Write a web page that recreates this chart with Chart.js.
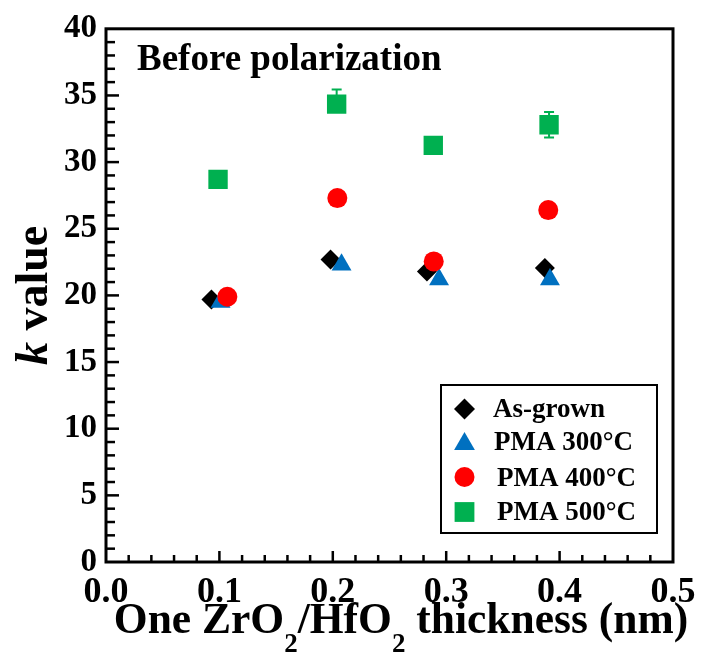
<!DOCTYPE html>
<html>
<head>
<meta charset="utf-8">
<script src="https://cdn.jsdelivr.net/npm/chart.js@4.4.0/dist/chart.umd.min.js"></script>
<style>
  html, body { margin: 0; padding: 0; background: #fff; }
</style>
</head>
<body>
<canvas id="kChart" width="708" height="661"></canvas>
<script>
// values
const seriesNames = ['As-grown', 'PMA 300°C', 'PMA 400°C', 'PMA 500°C'];
const seriesColors = ['#000000', '#0070C0', '#FF0000', '#00B050'];

const asGrownX = [0.093, 0.198, 0.283, 0.387];
const asGrownY = [19.7, 22.7, 21.8, 22.05];
const pma300X = [0.101, 0.2077, 0.2937, 0.3915];
const pma300Y = [19.5, 22.3, 21.2, 21.2];
const pma400X = [0.107, 0.204, 0.289, 0.390];
const pma400Y = [19.9, 27.3, 22.55, 26.4];
const pma500X = [0.0988, 0.2034, 0.2886, 0.3907];
const pma500Y = [28.7, 34.35, 31.25, 32.8];
const pma500ErrUp = [0, 1.1, 0, 0.95];
const pma500ErrDown = [0, 0.6, 0, 0.95];

const xTickLabels = ['0.0', '0.1', '0.2', '0.3', '0.4', '0.5'];
const yTickLabels = ['0', '5', '10', '15', '20', '25', '30', '35', '40'];

const serif = "'Times New Roman', 'Liberation Serif', serif";

function toPoints(xs, ys) {
  return xs.map((x, i) => ({ x: x, y: ys[i] }));
}

// inward ticks + closed frame
const frameTicks = {
  id: 'frameTicks',
  beforeDatasetsDraw(chart) {
    const { ctx, chartArea: a, scales } = chart;
    const xs = scales.x, ys = scales.y;
    ctx.save();
    ctx.strokeStyle = '#000';
    ctx.lineWidth = 2.5;
    for (let v = 1; v < 40; v++) {
      const py = ys.getPixelForValue(v);
      const len = v % 5 === 0 ? 13 : 9;
      ctx.beginPath();
      ctx.moveTo(a.left, py);
      ctx.lineTo(a.left + len, py);
      ctx.stroke();
    }
    for (let k = 1; k < 25; k++) {
      const px = xs.getPixelForValue(k * 0.02);
      const len = k % 5 === 0 ? 11 : 7;
      ctx.beginPath();
      ctx.moveTo(px, a.bottom);
      ctx.lineTo(px, a.bottom - len);
      ctx.stroke();
    }
    ctx.lineWidth = 3;
    ctx.strokeRect(a.left, a.top, a.right - a.left, a.bottom - a.top);
    ctx.restore();
  }
};

// error bars on PMA 500°C
const errorBars = {
  id: 'errorBars',
  beforeDatasetsDraw(chart) {
    const { ctx, scales } = chart;
    ctx.save();
    ctx.strokeStyle = seriesColors[3];
    ctx.lineWidth = 2;
    pma500X.forEach((x, i) => {
      if (!pma500ErrUp[i] && !pma500ErrDown[i]) return;
      const px = scales.x.getPixelForValue(x);
      const top = scales.y.getPixelForValue(pma500Y[i] + pma500ErrUp[i]);
      const bot = scales.y.getPixelForValue(pma500Y[i] - pma500ErrDown[i]);
      ctx.beginPath();
      ctx.moveTo(px, top); ctx.lineTo(px, bot);
      ctx.moveTo(px - 5, top); ctx.lineTo(px + 5, top);
      ctx.moveTo(px - 5, bot); ctx.lineTo(px + 5, bot);
      ctx.stroke();
    });
    ctx.restore();
  }
};

// note, legend box and axis titles (subscripts need pieces)
const figureText = {
  id: 'figureText',
  afterDraw(chart) {
    const { ctx, chartArea: a } = chart;
    ctx.save();
    ctx.fillStyle = '#000';
    ctx.textBaseline = 'alphabetic';
    ctx.textAlign = 'left';

    ctx.font = 'bold 37px ' + serif;
    ctx.fillText('Before polarization', a.left + 31, a.top + 41);

    // legend
    ctx.lineWidth = 2;
    ctx.strokeStyle = '#000';
    ctx.strokeRect(441, 385, 216, 148);
    const rowsY = [409, 444, 477, 512];
    const baseY = [417, 450, 486, 520];
    const textX = [493, 494, 497, 497];
    chart.data.datasets.forEach((ds, i) => {
      ctx.fillStyle = ds.backgroundColor;
      Chart.helpers.drawPoint(ctx, {
        pointStyle: ds.pointStyle,
        radius: ds.legendRadius,
        rotation: 0,
        borderWidth: 0
      }, 464.5, rowsY[i]);
      ctx.fillStyle = '#000';
      ctx.font = 'bold 27px ' + serif;
      ctx.fillText(ds.label, textX[i], baseY[i]);
    });

    // x title
    const parts = [['One ZrO', 0], ['2', 1], ['/HfO', 0], ['2', 1], [' thickness (nm)', 0]];
    const mainFont = 'bold 43.5px ' + serif, subFont = 'bold 27px ' + serif;
    let total = 0;
    parts.forEach(p => { ctx.font = p[1] ? subFont : mainFont; total += ctx.measureText(p[0]).width; });
    let cx = 401 - total / 2;
    parts.forEach(p => {
      ctx.font = p[1] ? subFont : mainFont;
      ctx.fillText(p[0], cx, p[1] ? 652 : 633);
      cx += ctx.measureText(p[0]).width;
    });

    // y title
    ctx.translate(47, (a.top + a.bottom) / 2);
    ctx.rotate(-Math.PI / 2);
    const kFont = 'italic bold 46px ' + serif, vFont = 'bold 46px ' + serif;
    ctx.font = kFont; const wk = ctx.measureText('k').width;
    ctx.font = vFont; const wv = ctx.measureText(' value').width;
    let sx = -(wk + wv) / 2;
    ctx.font = kFont; ctx.fillText('k', sx, 0);
    ctx.font = vFont; ctx.fillText(' value', sx + wk, 0);
    ctx.restore();
  }
};

const datasets = [
  { label: seriesNames[0], data: toPoints(asGrownX, asGrownY), pointStyle: 'rectRot', pointRadius: 10, legendRadius: 10.5, order: 4 },
  { label: seriesNames[1], data: toPoints(pma300X, pma300Y), pointStyle: 'triangle', pointRadius: 11.5, legendRadius: 12, order: 3 },
  { label: seriesNames[2], data: toPoints(pma400X, pma400Y), pointStyle: 'circle', pointRadius: 10, legendRadius: 10, order: 2 },
  { label: seriesNames[3], data: toPoints(pma500X, pma500Y), pointStyle: 'rect', pointRadius: 13.7, legendRadius: 14, order: 1 }
].map((ds, i) => Object.assign(ds, {
  backgroundColor: seriesColors[i],
  borderColor: seriesColors[i],
  borderWidth: 0,
  pointHoverRadius: ds.pointRadius,
  showLine: false
}));

new Chart(document.getElementById('kChart'), {
  type: 'scatter',
  data: { datasets: datasets },
  options: {
    responsive: false,
    animation: false,
    events: [],
    layout: { padding: { top: 22, right: 35, left: 0, bottom: 0 } },
    plugins: { legend: { display: false }, tooltip: { enabled: false } },
    scales: {
      x: {
        type: 'linear', min: 0, max: 0.5,
        afterFit: s => { s.height = 99; },
        border: { display: false },
        grid: { display: false, drawTicks: false },
        ticks: {
          stepSize: 0.1, autoSkip: false, maxRotation: 0, padding: 9,
          color: '#000', font: { family: serif, size: 36, weight: 'bold' },
          callback: (v, i) => xTickLabels[i]
        }
      },
      y: {
        type: 'linear', min: 0, max: 40,
        afterFit: s => { s.width = 106; },
        border: { display: false },
        grid: { display: false, drawTicks: false },
        ticks: {
          stepSize: 5, autoSkip: false, padding: 9,
          color: '#000', font: { family: serif, size: 33, weight: 'bold' },
          callback: (v, i) => yTickLabels[i]
        }
      }
    }
  },
  plugins: [frameTicks, errorBars, figureText]
});
</script>
</body>
</html>
